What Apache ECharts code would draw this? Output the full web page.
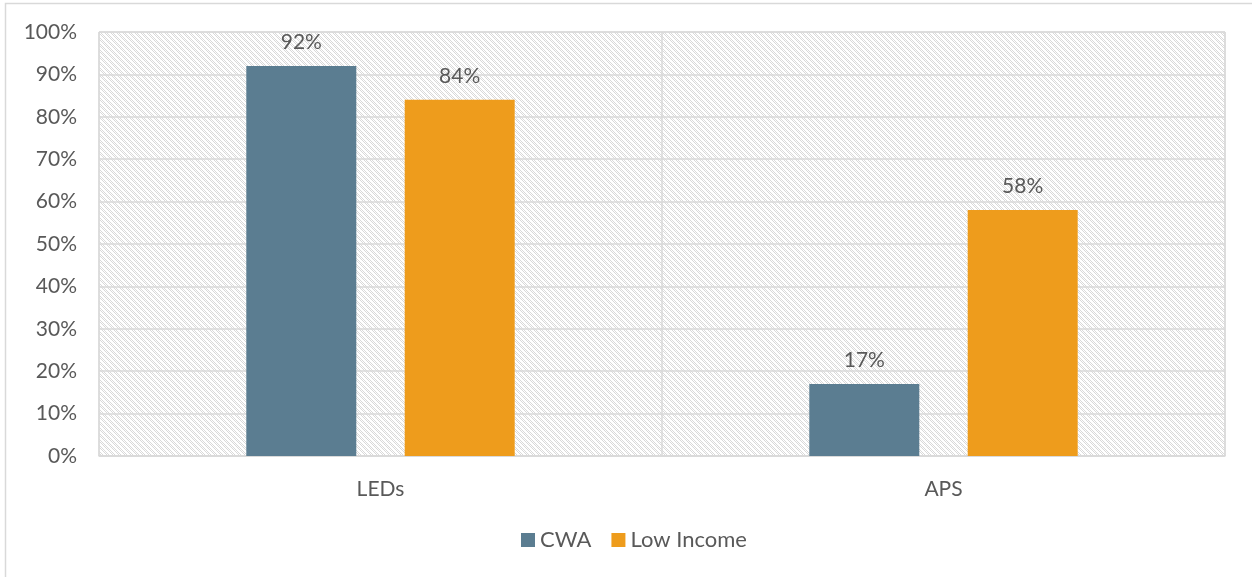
<!DOCTYPE html>
<html>
<head>
<meta charset="utf-8">
<script src="https://cdn.jsdelivr.net/npm/echarts@6/dist/echarts.min.js"></script>
<style>
  html, body { margin: 0; padding: 0; background: #fff; }
  #chart { width: 1252px; height: 577px; }
</style>
</head>
<body>
<div id="chart"></div>
<script>
// Share of households by measure
const categories = ['LEDs', 'APS'];
const cwaValues = [92, 17];
const lowIncomeValues = [84, 58];
const yTicks = [0, 10, 20, 30, 40, 50, 60, 70, 80, 90, 100];

const textColor = '#595959';
const fontFamily = 'Lato, "Open Sans", sans-serif';

// Diagonal hatch tile for the plot background
function hatchTile() {
  const size = 6;
  const c = document.createElement('canvas');
  c.width = size; c.height = size;
  const ctx = c.getContext('2d');
  ctx.fillStyle = '#ffffff';
  ctx.fillRect(0, 0, size, size);
  ctx.fillStyle = '#d9d9d9';
  for (let y = 0; y < size; y++) {
    for (let x = 0; x < size; x++) {
      const d = ((x - y) % size + size) % size;
      if (d <= 2 && ((x + y) % 2 === 0)) {
        ctx.fillRect(x, y, 1, 1);
      }
    }
  }
  return c;
}

const chart = echarts.init(document.getElementById('chart'), null, { renderer: 'canvas' });

const labelStyle = {
  show: true,
  position: 'top',
  distance: 13,
  color: textColor,
  fontSize: 21,
  fontFamily: fontFamily,
  formatter: p => p.value + '%'
};

chart.setOption({
  animation: false,
  backgroundColor: '#ffffff',
  graphic: [{
    type: 'rect',
    shape: { x: 5.5, y: 3.5, width: 1260, height: 600 },
    style: { fill: 'none', stroke: '#d9d9d9', lineWidth: 1.5 },
    silent: true,
    z: -1
  }],
  grid: {
    left: 99,
    right: 27,
    top: 32,
    bottom: 121,
    show: true,
    borderColor: '#d9d9d9',
    borderWidth: 1,
    backgroundColor: { image: hatchTile(), repeat: 'repeat' }
  },
  legend: {
    bottom: 21,
    left: 516,
    itemWidth: 14,
    itemHeight: 14,
    itemGap: 20,
    icon: 'rect',
    textStyle: { color: textColor, fontSize: 22, fontFamily: fontFamily },
    data: ['CWA', 'Low Income']
  },
  xAxis: {
    type: 'category',
    data: categories,
    axisLine: { show: true, lineStyle: { color: '#d9d9d9', width: 1.5 } },
    axisTick: { show: false },
    axisLabel: { color: textColor, fontSize: 21, fontFamily: fontFamily, margin: 23 },
    splitLine: { show: true, lineStyle: { color: '#d9d9d9', width: 1.5 } }
  },
  yAxis: {
    type: 'value',
    min: yTicks[0],
    max: yTicks[yTicks.length - 1],
    interval: 10,
    axisLine: { show: false },
    axisTick: { show: false },
    axisLabel: {
      color: textColor, fontSize: 21, fontFamily: fontFamily, margin: 22,
      formatter: v => v + '%'
    },
    splitLine: { show: true, lineStyle: { color: '#d9d9d9', width: 1.5 } }
  },
  series: [
    {
      name: 'CWA',
      type: 'bar',
      data: cwaValues,
      barWidth: 110,
      barGap: '44%',
      itemStyle: { color: '#5b7d91' },
      label: labelStyle
    },
    {
      name: 'Low Income',
      type: 'bar',
      data: lowIncomeValues,
      barWidth: 110,
      itemStyle: { color: '#ee9c1c' },
      label: labelStyle
    }
  ]
});
</script>
</body>
</html>
